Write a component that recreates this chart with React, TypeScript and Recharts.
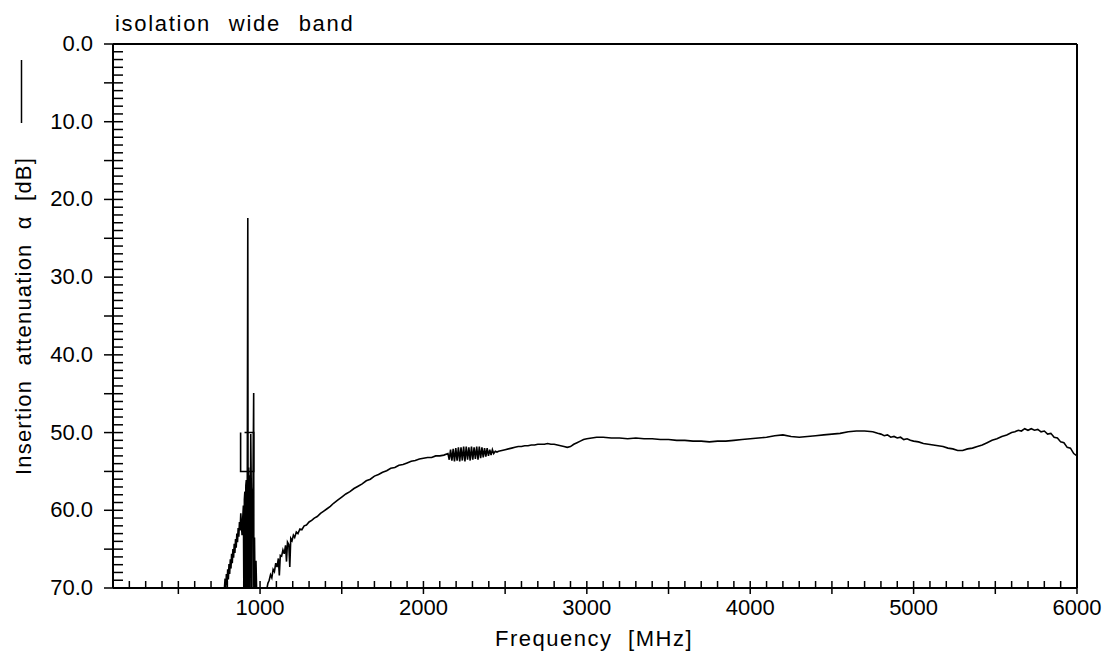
import React from 'react';
import { LineChart, Line, XAxis, YAxis, ReferenceLine } from 'recharts';

// ---- data: [frequency MHz, attenuation dB] ----
const spurRegion: [number, number][] = [
  [770, 72], [782, 70.0], [786, 68.8], [790, 70.4], [794, 68.2], [798, 69.6], [802, 67.6], [806, 68.9],
  [810, 66.9], [814, 68.2], [818, 66.3], [822, 67.5], [826, 65.6], [830, 66.8], [834, 65.0], [838, 66.1],
  [842, 64.3], [846, 65.5], [850, 63.7], [854, 64.8], [858, 63.0], [862, 64.1], [866, 62.3], [870, 63.4],
  [874, 61.5], [878, 62.6], [882, 60.4], [886, 61.9], [890, 63.2], [894, 61.0], [898, 59.4], [901, 71],
  [904, 58.6], [907, 57.6], [910, 71], [913, 56.8], [916, 56.1], [919, 71], [922, 55.0], [925, 22.4],
  [927, 71], [930, 54.5], [933, 71], [936, 55.5], [939, 71], [943, 50.2], [946, 56.5], [950, 71],
  [953, 58.5], [957, 57.0], [961, 44.9], [962, 71], [966, 63.5], [970, 71], [975, 66.5], [981, 72],
  [1000, 76], [1030, 71.5],
];

const riseRegion: [number, number][] = [
  [1040, 70.3], [1048, 69.4], [1056, 69.0], [1064, 68.3], [1072, 68.7], [1080, 67.6], [1088, 67.9],
  [1096, 66.8], [1104, 67.3], [1112, 66.2], [1118, 68.4], [1124, 65.8], [1132, 65.9], [1140, 65.1],
  [1148, 65.6], [1156, 64.5], [1162, 66.6], [1168, 64.1], [1176, 64.4], [1182, 67.3], [1188, 63.6],
  [1196, 63.9], [1204, 63.2], [1212, 63.5], [1222, 62.8], [1232, 63.0], [1244, 62.4], [1256, 62.5],
  [1270, 62.0], [1284, 61.9], [1300, 61.5], [1316, 61.3], [1332, 61.0], [1350, 60.8], [1370, 60.4],
  [1390, 60.1], [1410, 59.8], [1430, 59.5], [1450, 59.1], [1475, 58.7], [1500, 58.3], [1525, 57.9],
  [1550, 57.6], [1575, 57.2], [1600, 56.9], [1625, 56.6], [1650, 56.2], [1675, 56.0], [1700, 55.6],
  [1725, 55.4], [1750, 55.1], [1775, 54.9], [1800, 54.6], [1825, 54.5], [1850, 54.2], [1875, 54.1],
  [1900, 53.9], [1925, 53.7], [1950, 53.6], [1975, 53.4], [2000, 53.3], [2025, 53.2], [2050, 53.2],
  [2075, 53.0], [2100, 53.0], [2125, 52.9],
];

const noisyRegion: [number, number][] = [
  [2150, 52.7], [2158, 53.5], [2166, 52.2], [2174, 53.6], [2182, 52.1], [2190, 53.7], [2198, 52.0],
  [2206, 53.6], [2214, 51.9], [2222, 53.7], [2230, 51.9], [2238, 53.6], [2246, 51.8], [2254, 53.7],
  [2262, 51.8], [2270, 53.5], [2278, 51.9], [2286, 53.6], [2294, 51.8], [2302, 53.5], [2310, 51.9],
  [2318, 53.4], [2326, 51.8], [2334, 53.5], [2342, 51.8], [2350, 53.3], [2358, 51.9], [2366, 53.2],
  [2374, 52.0], [2382, 53.1], [2390, 52.0], [2398, 53.0], [2406, 52.2], [2414, 52.9], [2422, 52.2],
  [2430, 52.7], [2440, 52.4], [2450, 52.5],
];

const midRegion: [number, number][] = [
  [2460, 52.4], [2480, 52.3], [2500, 52.2], [2520, 52.1], [2540, 52.0], [2560, 51.9], [2580, 51.8],
  [2600, 51.8], [2620, 51.7], [2640, 51.7], [2660, 51.6], [2680, 51.6], [2700, 51.5], [2720, 51.5],
  [2740, 51.5], [2760, 51.4], [2780, 51.5], [2800, 51.5], [2820, 51.6], [2840, 51.7], [2860, 51.8],
  [2880, 51.9], [2900, 51.8], [2920, 51.5], [2940, 51.3], [2960, 51.1], [2980, 50.9], [3000, 50.8],
];

const plateauRegion: [number, number][] = [
  [3030, 50.7], [3060, 50.6], [3100, 50.6], [3150, 50.7], [3200, 50.7], [3250, 50.8], [3300, 50.7],
  [3350, 50.8], [3400, 50.8], [3450, 50.9], [3500, 50.9], [3550, 51.0], [3600, 51.0], [3650, 51.1],
  [3700, 51.1], [3750, 51.2], [3800, 51.1], [3850, 51.1], [3900, 51.0], [3950, 50.9], [4000, 50.8],
  [4050, 50.7], [4100, 50.6], [4150, 50.4], [4200, 50.3], [4250, 50.5], [4300, 50.6], [4350, 50.5],
  [4400, 50.4], [4450, 50.3], [4500, 50.2], [4550, 50.1], [4600, 49.9], [4650, 49.8], [4700, 49.8],
  [4750, 49.9],
];

const tailRegion: [number, number][] = [
  [4780, 50.1], [4800, 50.2], [4820, 50.4], [4840, 50.3], [4860, 50.6], [4880, 50.5], [4900, 50.7],
  [4920, 50.6], [4940, 50.9], [4960, 50.8], [4980, 51.0], [5000, 51.1], [5030, 51.2], [5060, 51.4],
  [5090, 51.5], [5120, 51.6], [5150, 51.7], [5180, 51.8], [5210, 52.0], [5240, 52.1], [5270, 52.3],
  [5300, 52.3], [5330, 52.1], [5360, 52.0], [5390, 51.8], [5420, 51.6], [5450, 51.3], [5480, 51.0],
  [5510, 50.8], [5540, 50.5], [5570, 50.3], [5600, 50.0], [5620, 49.9], [5640, 49.7], [5660, 49.8],
  [5680, 49.5], [5700, 49.7], [5720, 49.5], [5740, 49.7], [5760, 49.6], [5780, 49.9], [5800, 49.8],
  [5820, 50.2], [5840, 50.1], [5860, 50.6], [5880, 50.7], [5900, 51.2], [5920, 51.3], [5940, 51.9],
  [5960, 52.0], [5980, 52.7], [6000, 53.0],
];

const maskLine: [number, number][] = [
  [881, 50], [881, 55], [961, 55], [961, 50], [905, 50],
];

const xLabelTicks = [1000, 2000, 3000, 4000, 5000, 6000];
const yLabelTicks = [0, 10, 20, 30, 40, 50, 60, 70];

const xMinorTicks: number[] = [];
for (let f = 100; f <= 6000; f += 100) xMinorTicks.push(f);
const yMinorTicks: number[] = [];
for (let d = 0; d <= 70; d += 1) yMinorTicks.push(d);

const toPoints = (arr: [number, number][]) => arr.map(([f, v]) => ({ f, v }));
const traceData = toPoints([
  ...spurRegion, ...riseRegion, ...noisyRegion, ...midRegion, ...plateauRegion, ...tailRegion,
]);
const maskData = toPoints(maskLine);

const FONT = '"Liberation Sans", Arial, sans-serif';

const XTick = (props: any) => {
  const { x, y, payload } = props;
  const v = payload.value as number;
  const major = v % 500 === 0;
  return (
    <g>
      {v !== 100 && (
        <line x1={x} x2={x} y1={y - 7} y2={major ? y + 6 : y} stroke="#000" strokeWidth={1.5} />
      )}
      {xLabelTicks.includes(v) && (
        <text x={x} y={y + 27} textAnchor="middle" fontSize={22} fontFamily={FONT} fill="#000">
          {v}
        </text>
      )}
    </g>
  );
};

const YTick = (props: any) => {
  const { x, y, payload } = props;
  const v = payload.value as number;
  const major = v % 5 === 0;
  return (
    <g>
      <line x1={major ? x - 9 : x} x2={x + 10} y1={y} y2={y} stroke="#000" strokeWidth={1.5} />
      {yLabelTicks.includes(v) && (
        <text x={x - 20} y={y + 7} textAnchor="end" fontSize={22} fontFamily={FONT} fill="#000">
          {v.toFixed(1)}
        </text>
      )}
    </g>
  );
};

export default function App() {
  return (
    <div style={{ position: 'absolute', left: 0, top: 0, width: 1111, height: 657, background: '#fff' }}>
      <LineChart
        width={1111}
        height={657}
        margin={{ top: 44, right: 34, left: 93, bottom: 49 }}
      >
        <XAxis
          dataKey="f"
          type="number"
          domain={[100, 6000]}
          ticks={xMinorTicks}
          interval={0}
          tickSize={0}
          tickMargin={0}
          tickLine={false}
          height={20}
          axisLine={{ stroke: '#000', strokeWidth: 2 }}
          tick={<XTick />}
          allowDataOverflow
        />
        <YAxis
          type="number"
          domain={[0, 70]}
          reversed
          ticks={yMinorTicks}
          interval={0}
          tickSize={0}
          tickMargin={0}
          tickLine={false}
          width={20}
          axisLine={{ stroke: '#000', strokeWidth: 2 }}
          tick={<YTick />}
          allowDataOverflow
        />
        <ReferenceLine y={0} stroke="#000" strokeWidth={2} />
        <ReferenceLine x={6000} stroke="#000" strokeWidth={2} />
        <Line
          data={maskData}
          dataKey="v"
          type="linear"
          stroke="#000"
          strokeWidth={1.6}
          dot={false}
          activeDot={false}
          isAnimationActive={false}
        />
        <Line
          data={traceData}
          dataKey="v"
          type="linear"
          stroke="#000"
          strokeWidth={1.6}
          dot={false}
          activeDot={false}
          isAnimationActive={false}
        />
      </LineChart>
      <svg
        width={1111}
        height={657}
        style={{ position: 'absolute', left: 0, top: 0, pointerEvents: 'none' }}
      >
        <text x={115} y={31} fontSize={22} fontFamily={FONT} letterSpacing={1.7} wordSpacing={10} fill="#000">
          isolation wide band
        </text>
        <text x={594} y={646} textAnchor="middle" fontSize={22} fontFamily={FONT} letterSpacing={1.5} wordSpacing={8} fill="#000">
          Frequency [MHz]
        </text>
        <text
          x={31}
          y={316}
          textAnchor="middle"
          fontSize={22}
          fontFamily={FONT}
          letterSpacing={1.2}
          wordSpacing={7}
          fill="#000"
          transform="rotate(-90, 31, 316)"
        >
          Insertion attenuation α [dB]
        </text>
        <line x1={21.5} x2={21.5} y1={60} y2={123} stroke="#000" strokeWidth={1.5} />
      </svg>
    </div>
  );
}
